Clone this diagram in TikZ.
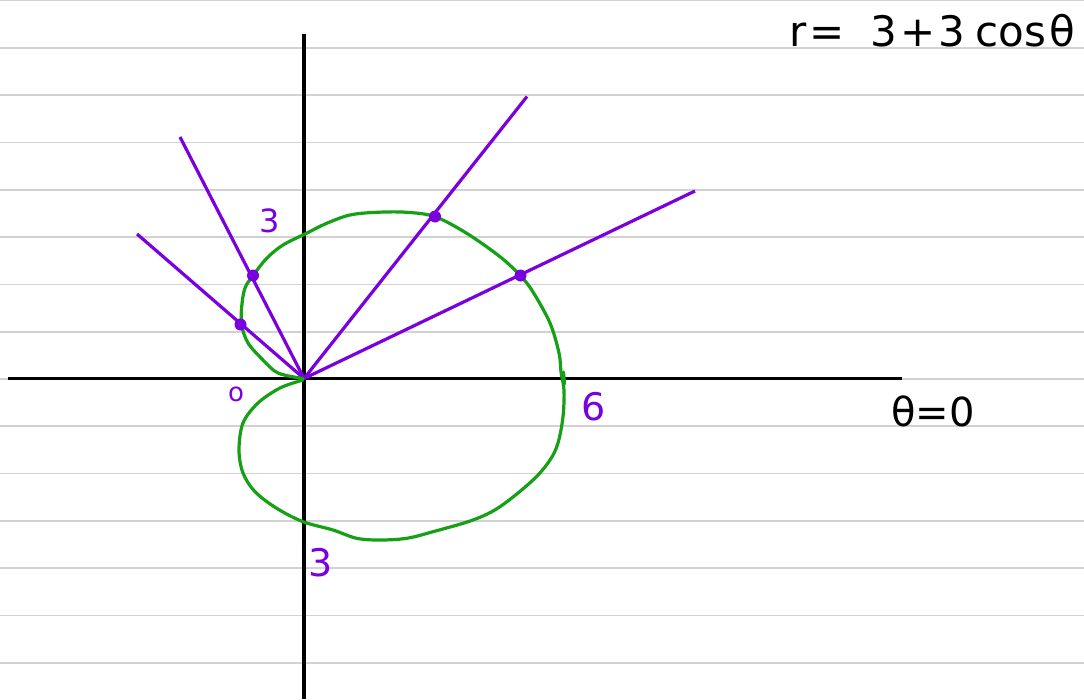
\documentclass[tikz,border=0pt]{standalone}
\usepackage{fontspec}
\setmainfont{DejaVu Sans}
\definecolor{paperline}{RGB}{210,210,210}
\definecolor{curvegreen}{RGB}{22,160,22}
\definecolor{raypurple}{RGB}{122,0,224}
\tikzset{
  ruling/.style={draw=paperline, line width=1.7pt},
  axis/.style={draw=black, line width=3.2pt},
  ray/.style={draw=raypurple, line width=3.2pt},
  curve/.style={draw=curvegreen, line width=3.2pt, line join=round, line cap=round},
  dotmark/.style={circle, fill=raypurple, inner sep=0pt, minimum size=12pt},
  plab/.style={text=raypurple, inner sep=0pt},
  blab/.style={text=black, inner sep=0pt}
}
\begin{document}
\begin{tikzpicture}[x=1pt,y=-1pt]
\useasboundingbox (0,0) rectangle (1084,699);
\fill[white] (0,0) rectangle (1084,699);
% ruled paper lines
\foreach \k in {0,...,14} {
  \draw[ruling] (0,{0.6+47.3*\k}) -- (1084,{0.6+47.3*\k});
}
% axes
\coordinate (O) at (304,378.5);
\coordinate (xl) at (8,378.5);
\coordinate (xr) at (902,378.5);
\coordinate (yt) at (304,34);
\coordinate (yb) at (304,699);
\draw[axis] (xl) -- (xr);
\draw[axis] (yt) -- (yb);
% rays
\coordinate (e1) at (180,137);
\coordinate (e2) at (137,234);
\coordinate (e3) at (527,96.5);
\coordinate (e4) at (695,191);
\draw[ray] (O) -- (e1);
\draw[ray] (O) -- (e2);
\draw[ray] (O) -- (e3);
\draw[ray] (O) -- (e4);
% cardioid (hand-drawn)
\draw[curve] plot[smooth, tension=0.55] coordinates {
 (303,378.5) (278,373) (263,360) (248,343) (241.7,325) (241.7,306.7) (245,288)
 (253,275.7) (266.7,258.3) (283,245) (305,234) (326.7,223.3) (350,215)
 (376.7,212.3) (406.7,212.3) (435,216.7) (466.7,233.3) (500,256.7) (520.7,276)
 (533,292) (550,323) (559,353) (561,372) (564,390) (563,416.7) (558,443)
 (550,460) (533,480) (500,506.7) (473,520) (433,531.7) (406.7,538.3) (380,540)
 (356.7,538.3) (333,530) (303,521.7) (276.7,508.3) (255,491.7) (243,473)
 (239,450) (243,423) (258,403) (280,388) (303,380)};
\draw[curve] (563.5,372) -- (564.5,384);
% dots
\node[dotmark] (d1) at (253,275.5) {};
\node[dotmark] (d2) at (240.5,324.5) {};
\node[dotmark] (d3) at (435,216.5) {};
\node[dotmark] (d4) at (520.5,275.5) {};
% labels
\node[plab, font=\fontsize{32}{32}\selectfont] (l3a) at (270,221) {3};
\node[plab, font=\fontsize{26}{26}\selectfont] (l0) at (236,394) {o};
\node[plab, font=\fontsize{38}{38}\selectfont] (l6) at (594,407) {6};
\node[plab, font=\fontsize{38}{38}\selectfont] (l3b) at (321,563) {3};
\node[blab, font=\fontsize{40}{40}\selectfont] (theta) at (933,411) {θ=0};
\node[blab, font=\fontsize{42}{42}\selectfont, anchor=base west] (eq) at (789,46) {r\hspace{3pt}=\hspace{26pt}3\hspace{3pt}+\hspace{3pt}3\hspace{10pt}cos\hspace{4pt}θ};
\end{tikzpicture}
\end{document}
